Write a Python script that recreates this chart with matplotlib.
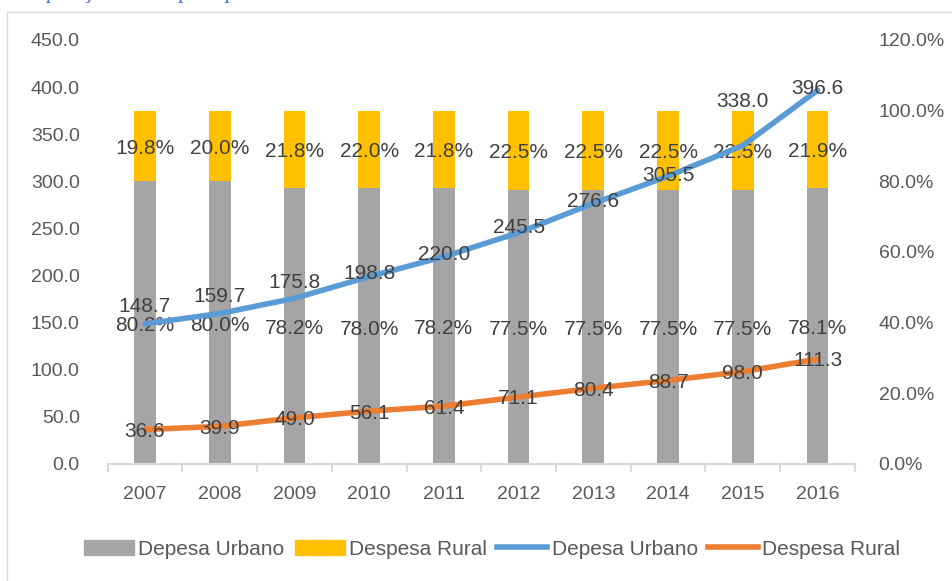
import numpy as np
import matplotlib.pyplot as plt
from matplotlib.patches import Rectangle
from matplotlib.lines import Line2D

plt.rcParams['font.family'] = ['Liberation Sans', 'DejaVu Sans']

# Data.
years = ['2007', '2008', '2009', '2010', '2011', '2012', '2013', '2014', '2015', '2016']
urb_pct = [80.2, 80.0, 78.2, 78.0, 78.2, 77.5, 77.5, 77.5, 77.5, 78.1]
rur_pct = [19.8, 20.0, 21.8, 22.0, 21.8, 22.5, 22.5, 22.5, 22.5, 21.9]
urb_val = [148.7, 159.7, 175.8, 198.8, 220.0, 245.5, 276.6, 305.5, 338.0, 396.6]
rur_val = [36.6, 39.9, 49.0, 56.1, 61.4, 71.1, 80.4, 88.7, 98.0, 111.3]

grey = '#a5a5a5'
gold = '#ffc000'
blue = '#5b9bd5'
orange = '#ed7d31'
txt = '#404040'
tick = '#595959'
fs = 14
lfs = 15

fig = plt.figure(figsize=(9.52, 5.81), dpi=100)
# chart frame
fig.patches.append(Rectangle((0.007, -0.1), 1.1, 1.079, transform=fig.transFigure,
                             fill=False, edgecolor='#d9d9d9', lw=1))
# cut-off caption at the top
fig.text(0.005, 1.012, 'Composição da despesa por área', color='#4472c4',
         fontstyle='italic', fontsize=16, va='center', family='Liberation Serif')

ax = fig.add_axes([0.113, 0.2014, 0.785, 0.7298])
ax2 = ax.twinx()
x = np.arange(len(years))

# bars on the secondary (percentage) axis
ax2.bar(x, urb_pct, width=0.29, color=grey)
ax2.bar(x, rur_pct, width=0.29, bottom=urb_pct, color=gold)
ax2.set_ylim(0, 120)
ax2.set_yticks(np.arange(0, 121, 20))
ax2.set_yticklabels(['{:.1f}%'.format(v) for v in np.arange(0, 121, 20)])
for i in range(len(years)):
    ax2.text(x[i], urb_pct[i] / 2 - 0.8, '{:.1f}%'.format(urb_pct[i]), ha='center',
             va='center', fontsize=lfs, color=txt)
    ax2.text(x[i], urb_pct[i] + rur_pct[i] / 2 - 0.7, '{:.1f}%'.format(rur_pct[i]),
             ha='center', va='center', fontsize=lfs, color=txt)

# lines on the primary axis, drawn above the bars
ax.set_zorder(ax2.get_zorder() + 1)
ax.patch.set_visible(False)
ax.plot(x, urb_val, color=blue, lw=4, solid_capstyle='round')
ax.plot(x, rur_val, color=orange, lw=4, solid_capstyle='round')
ax.set_ylim(0, 450)
ax.set_yticks(np.arange(0, 451, 50))
ax.set_yticklabels(['{:.1f}'.format(v) for v in np.arange(0, 451, 50)])
ax.set_xlim(-0.5, len(years) - 0.5)
ax.set_xticks(x)
ax.set_xticklabels(years)

# urban line labels: offsets in data units
urb_off = [18, 18, 17, 3, 2, 5, 2, 1, 47, 2]
for i in range(len(years)):
    ax.text(x[i], urb_val[i] + urb_off[i], '{:.1f}'.format(urb_val[i]), ha='center',
            va='center', fontsize=lfs, color=txt)
    ax.text(x[i], rur_val[i] - 2, '{:.1f}'.format(rur_val[i]), ha='center',
            va='center', fontsize=lfs, color=txt)
# leader line for 2015
ax.plot([x[8] - 0.03, x[8] - 0.01], [362 - 35, 338 - 5], color='#a6a6a6', lw=1)

for a in (ax, ax2):
    for s in a.spines.values():
        s.set_visible(False)
    a.tick_params(length=0, labelsize=fs, colors=tick)
ax.spines['bottom'].set_visible(True)
ax.spines['bottom'].set_color('#d9d9d9')
ax.spines['bottom'].set_linewidth(1.5)
# category boundary ticks
for b in np.arange(-0.5, len(years), 1.0):
    ax.plot([b, b], [0, -7], color='#d9d9d9', lw=1.5, clip_on=False)
ax.tick_params(axis='x', pad=16)
ax.tick_params(axis='y', pad=20)
ax2.tick_params(axis='y', pad=17)

handles = [Rectangle((0, 0), 1, 1, color=grey), Rectangle((0, 0), 1, 1, color=gold),
           Line2D([], [], color=blue, lw=4), Line2D([], [], color=orange, lw=4)]
labels = ['Depesa Urbano', 'Despesa Rural', 'Depesa Urbano', 'Despesa Rural']
fig.legend(handles, labels, loc='center', bbox_to_anchor=(0.517, 0.055), ncol=4,
           frameon=False, fontsize=15, labelcolor=tick, handlelength=2.4,
           handletextpad=0.2, columnspacing=0.5)

fig.savefig('out.png', dpi=100)
